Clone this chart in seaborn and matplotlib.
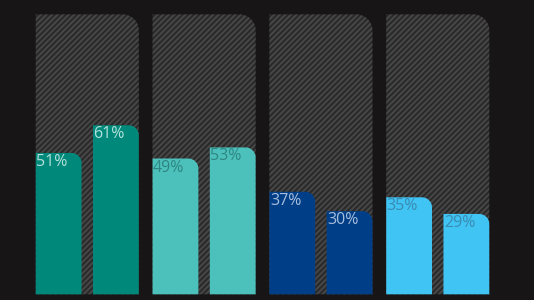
import numpy as np
import pandas as pd
import matplotlib
matplotlib.use("Agg")
import matplotlib.pyplot as plt
import seaborn as sns
from matplotlib.path import Path
from matplotlib.patches import PathPatch

# ---- data ----
groups = ["Group 1", "Group 2", "Group 3", "Group 4"]
series = ["Series A", "Series B"]
values_a = [51, 49, 37, 35]
values_b = [61, 53, 30, 29]
group_colors = ["#00897B", "#4CC1BB", "#003F87", "#40C4F4"]
label_colors = ["#b4e0da", "#2f8682", "#a9bddb", "#3a8bb2"]
background_max = 101

df = pd.DataFrame({
    "group": groups * 2,
    "series": [series[0]] * len(groups) + [series[1]] * len(groups),
    "value": values_a + values_b,
})

BG = "#171515"
W, H = 534, 300
plt.rcParams["hatch.linewidth"] = 1.4

fig = plt.figure(figsize=(W / 100, H / 100), dpi=100, facecolor=BG)
ax = fig.add_axes([0, 0, 1, 1])
ax.set_facecolor(BG)

sns.barplot(data=df, x="group", y="value", hue="series", order=groups,
            hue_order=series, width=0.98, gap=0.2, errorbar=None,
            legend=False, ax=ax)

xlim = (-0.747, 3.824)
ylim = (-2.06, 106.2)
ax.set_xlim(*xlim)
ax.set_ylim(*ylim)
ax.set_axis_off()

px_x = W / (xlim[1] - xlim[0])
px_y = H / (ylim[1] - ylim[0])


def top_right_round(x0, x1, y0, y1, r_px):
    rx = r_px / px_x
    ry = r_px / px_y
    k = 0.5523
    verts = [(x0, y0), (x1, y0), (x1, y1 - ry),
             (x1, y1 - ry * (1 - k)), (x1 - rx * (1 - k), y1), (x1 - rx, y1),
             (x0, y1), (x0, y0)]
    codes = [Path.MOVETO, Path.LINETO, Path.LINETO,
             Path.CURVE4, Path.CURVE4, Path.CURVE4,
             Path.LINETO, Path.CLOSEPOLY]
    return Path(verts, codes)


# background hatched panels
bg_width = 0.882
for i in range(len(groups)):
    path = top_right_round(i - bg_width / 2, i + bg_width / 2, 0,
                           background_max, 16)
    ax.add_patch(PathPatch(path, facecolor="#2a2929", edgecolor="#474747",
                           hatch="//////", lw=0, zorder=1))

# replace seaborn bars with rounded ones
bars = [p for p in ax.patches if not isinstance(p, PathPatch)]
for p in bars:
    x0 = p.get_x()
    w = p.get_width()
    h = p.get_height()
    gi = int(round(x0 + w / 2))
    p.set_visible(False)
    path = top_right_round(x0, x0 + w, 0, h, 10)
    ax.add_patch(PathPatch(path, facecolor=group_colors[gi], lw=0,
                           zorder=2))
    ax.text(x0 + 0.5 / px_x, h - 1.0 / px_y, f"{int(round(h))}%",
            ha="left", va="top", fontsize=11.5, family="Open Sans",
            color=label_colors[gi], zorder=3)

fig.savefig("out.png", dpi=100, facecolor=BG)
